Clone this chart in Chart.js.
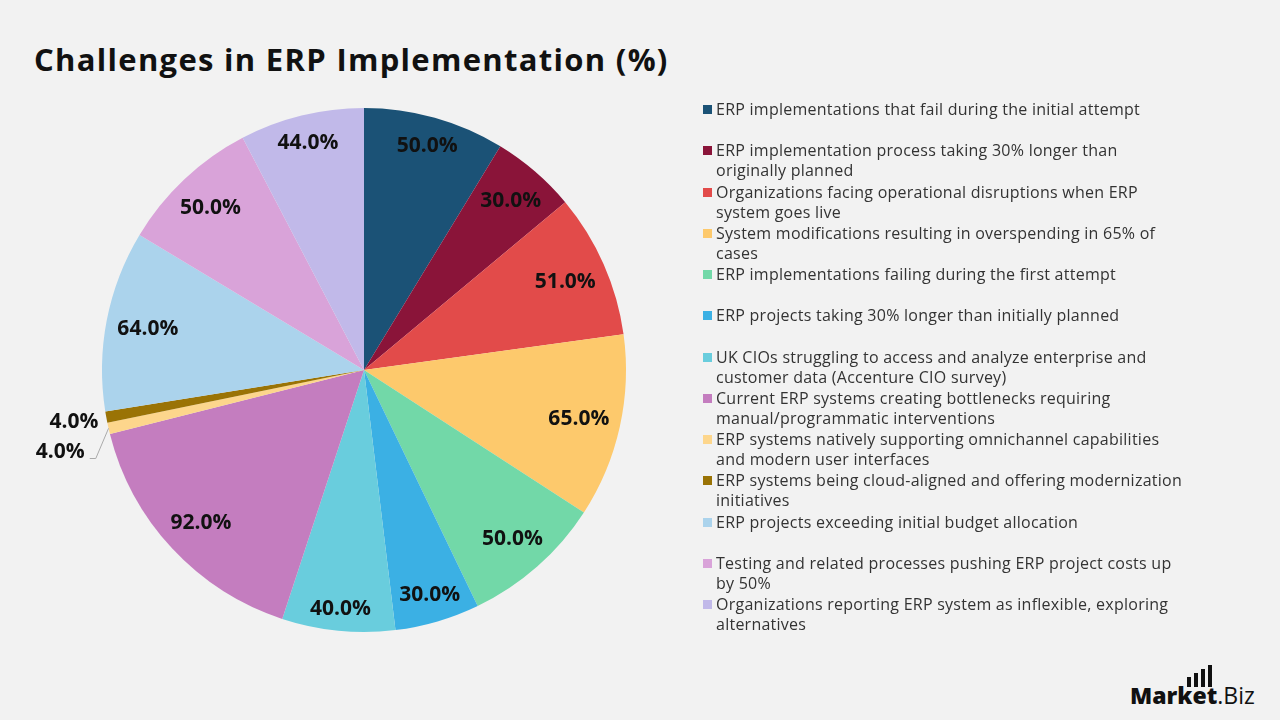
<!DOCTYPE html>
<html>
<head>
<meta charset="utf-8">
<script src="https://cdn.jsdelivr.net/npm/chart.js@4.4.1/dist/chart.umd.min.js"></script>
<style>
  html, body { margin: 0; padding: 0; }
  body { width: 1280px; height: 720px; background: #f2f2f2; position: relative; overflow: hidden; font-family: "Open Sans", sans-serif; }
  #title { position: absolute; left: 34px; top: 38px; font-size: 31px; font-weight: 700; color: #111; letter-spacing: 1.3px; }
  #chartBox { position: absolute; left: 0; top: 70px; width: 728px; height: 600px; }
  #legend { position: absolute; left: 703px; top: 99px; width: 570px; }
  .item { height: 41.25px; display: flex; align-items: flex-start; }
  .box { width: 9px; height: 9px; margin-top: 6px; margin-right: 4px; flex: none; }
  .txt { font-size: 16px; line-height: 20px; letter-spacing: 0.25px; color: #333; white-space: nowrap; }
  #logo { position: absolute; left: 1130px; top: 679px; font-size: 23px; color: #111; }
  #logo b { font-weight: 800; }
  .bar { position: absolute; width: 4px; background: #111; }
</style>
</head>
<body>
<div id="title">Challenges in ERP Implementation (%)</div>
<div id="chartBox"><canvas id="pieChart"></canvas></div>
<div id="legend"></div>
<div id="logo"><b>Market</b>.Biz
  <span class="bar" style="left:57px; top:-2px; height:10px;"></span>
  <span class="bar" style="left:64px; top:-6px; height:14px;"></span>
  <span class="bar" style="left:71px; top:-10px; height:18px;"></span>
  <span class="bar" style="left:78px; top:-14px; height:22px;"></span>
</div>
<script>
// ラベル（凡例の改行も元画像どおり）
const labels = [
    ["ERP implementations that fail during the initial attempt"],
    ["ERP implementation process taking 30% longer than", "originally planned"],
    ["Organizations facing operational disruptions when ERP", "system goes live"],
    ["System modifications resulting in overspending in 65% of", "cases"],
    ["ERP implementations failing during the first attempt"],
    ["ERP projects taking 30% longer than initially planned"],
    ["UK CIOs struggling to access and analyze enterprise and", "customer data (Accenture CIO survey)"],
    ["Current ERP systems creating bottlenecks requiring", "manual/programmatic interventions"],
    ["ERP systems natively supporting omnichannel capabilities", "and modern user interfaces"],
    ["ERP systems being cloud-aligned and offering modernization", "initiatives"],
    ["ERP projects exceeding initial budget allocation"],
    ["Testing and related processes pushing ERP project costs up", "by 50%"],
    ["Organizations reporting ERP system as inflexible, exploring", "alternatives"]
];

// 値（%）
const values = [50, 30, 51, 65, 50, 30, 40, 92, 4, 4, 64, 50, 44];

// 色
const colors = [
    "#1b5276", "#8a1439", "#e24b4a", "#fdc96c", "#72d8a8", "#3bb0e4", "#69cddd",
    "#c47dbf", "#fdd68c", "#9a7305", "#abd3ec", "#d9a3d9", "#c1b9e9"
];

// 凡例をHTMLで作る
const legendEl = document.getElementById("legend");
labels.forEach((lines, i) => {
    const item = document.createElement("div");
    item.className = "item";
    const box = document.createElement("div");
    box.className = "box";
    box.style.background = colors[i];
    const txt = document.createElement("div");
    txt.className = "txt";
    txt.innerHTML = lines.join("<br>");
    item.appendChild(box);
    item.appendChild(txt);
    legendEl.appendChild(item);
});

// スライスの上に数値を描くプラグイン（inside end 風）
const sliceLabels = {
    id: "sliceLabels",
    afterDatasetsDraw(chart) {
        const ctx = chart.ctx;
        const meta = chart.getDatasetMeta(0);
        const total = values.reduce((a, b) => a + b, 0);
        const outer = [];

        ctx.save();
        ctx.font = 'bold 21px "Open Sans"';
        ctx.fillStyle = "#111";
        ctx.textBaseline = "middle";

        meta.data.forEach((arc, i) => {
            const p = arc.getProps(["x", "y", "startAngle", "endAngle", "outerRadius"], true);
            const mid = (p.startAngle + p.endAngle) / 2;
            const ux = Math.cos(mid), uy = Math.sin(mid);
            const text = values[i].toFixed(1) + "%";
            if (values[i] / total > 0.02) {
                // 文字の箱が円の内側に収まるように
                const hw = ctx.measureText(text).width / 2;
                const hh = 10;
                const d = p.outerRadius - 10 - (Math.abs(ux) * hw + Math.abs(uy) * hh);
                ctx.textAlign = "center";
                ctx.fillText(text, p.x + ux * d, p.y + uy * d + 1);
            } else {
                // 小さいスライスは外側に
                const r = p.outerRadius + 8;
                outer.push({
                    text: text,
                    ex: p.x + ux * p.outerRadius,
                    ey: p.y + uy * p.outerRadius,
                    x: p.x + ux * r,
                    y: p.y + uy * r + 4,
                    moved: false
                });
            }
        });

        // 重なったら下にずらす
        outer.sort((a, b) => a.y - b.y);
        for (let k = 1; k < outer.length; k++) {
            if (outer[k].y - outer[k - 1].y < 30) {
                outer[k].y = outer[k - 1].y + 30;
                outer[k].x -= 16;
                outer[k].moved = true;
            }
        }

        ctx.textAlign = "right";
        outer.forEach(o => {
            ctx.fillText(o.text, o.x, o.y);
            if (o.moved) {
                ctx.beginPath();
                ctx.strokeStyle = "#aaa";
                ctx.lineWidth = 1;
                ctx.moveTo(o.ex, o.ey);
                ctx.lineTo(o.x + 11, o.y + 6);
                ctx.lineTo(o.x + 5, o.y + 6);
                ctx.stroke();
            }
        });
        ctx.restore();
    }
};

const ctx = document.getElementById("pieChart");
const chart = new Chart(ctx, {
    type: "pie",
    data: {
        labels: labels,
        datasets: [{
            data: values,
            backgroundColor: colors,
            borderWidth: 0
        }]
    },
    options: {
        responsive: true,
        maintainAspectRatio: false,
        animation: false,
        layout: { padding: 38 },
        plugins: {
            legend: { display: false },
            tooltip: { enabled: false }
        }
    },
    plugins: [sliceLabels]
});
</script>
</body>
</html>
